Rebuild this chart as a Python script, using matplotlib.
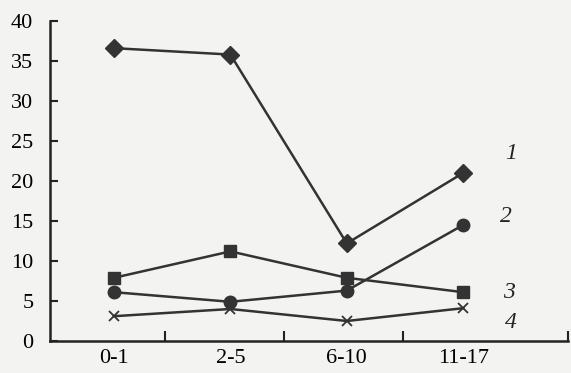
import matplotlib.pyplot as plt

groups = ['0-1', '2-5', '6-10', '11-17']
s1 = [36.6, 35.8, 12.2, 21.0]
s2 = [6.1, 4.9, 6.3, 14.5]
s3 = [7.9, 11.2, 7.9, 6.1]
s4 = [3.1, 4.0, 2.5, 4.1]
names = ['1', '2', '3', '4']

plt.rcParams['font.family'] = 'serif'
plt.rcParams['font.serif'] = ['Liberation Serif', 'DejaVu Serif']

fig = plt.figure(figsize=(5.71, 3.73), dpi=100, facecolor='#f3f3f1')
ax = fig.add_axes([0.0876, 0.0858, 0.907, 0.858])
ax.set_facecolor('#f3f3f1')

xs = range(len(groups))
line = {'color': '#333333', 'linewidth': 1.8}
ax.plot(xs, s1, marker='D', markersize=9, **line)
ax.plot(xs, s2, marker='o', markersize=9, **line)
ax.plot(xs, s3, marker='s', markersize=8.5, **line)
ax.plot(xs, s4, marker='x', markersize=7, markeredgewidth=1.3, **line)

# series numbers at the right ends
offs = [(0.41, 2.4), (0.37, 1.0), (0.39, 0.0), (0.41, -1.8)]
for s, n, (dx, dy) in zip([s1, s2, s3, s4], names, offs):
    ax.text(3 + dx, s[-1] + dy, n, style='italic', fontsize=17, va='center', ha='center', color='#222222')

ax.set_xlim(-0.55, 3.9)
ax.set_ylim(0, 40)
ax.set_yticks(range(0, 41, 5))
ax.set_xticks([0.44, 1.46, 2.48, 3.9])
ax.set_xticklabels([])
ax.set_xticks(list(xs), minor=True)
ax.set_xticklabels(groups, minor=True)
ax.tick_params(axis='x', which='minor', length=0, labelsize=16, pad=6)
ax.tick_params(axis='x', which='major', direction='in', length=7, width=1.5, color='#222222')
ax.tick_params(axis='y', direction='in', length=6, width=1.5, labelsize=16, pad=12, color='#222222')

for sp in ['top', 'right']:
    ax.spines[sp].set_visible(False)
for sp in ['left', 'bottom']:
    ax.spines[sp].set_linewidth(1.8)
    ax.spines[sp].set_color('#222222')

plt.savefig('out.png', dpi=100, facecolor=fig.get_facecolor())
